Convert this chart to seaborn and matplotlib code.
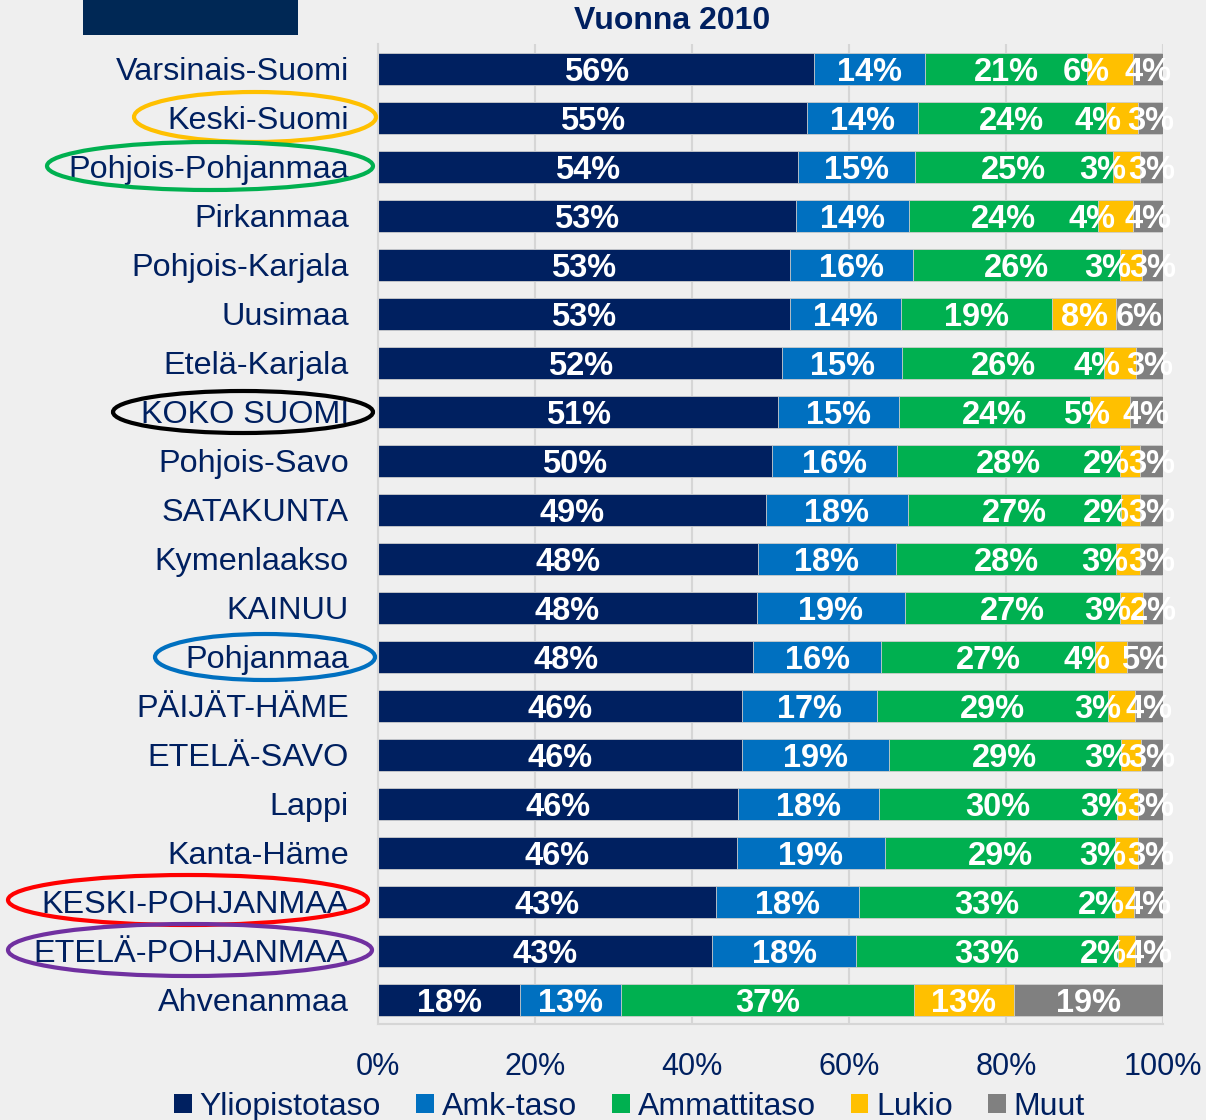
import matplotlib
matplotlib.use('Agg')
import matplotlib.pyplot as plt
import seaborn as sns
import numpy as np
import pandas as pd
from matplotlib.patches import Ellipse, Rectangle, Patch

regions = ['Varsinais-Suomi', 'Keski-Suomi', 'Pohjois-Pohjanmaa', 'Pirkanmaa',
           'Pohjois-Karjala', 'Uusimaa', 'Etelä-Karjala', 'KOKO SUOMI',
           'Pohjois-Savo', 'SATAKUNTA', 'Kymenlaakso', 'KAINUU', 'Pohjanmaa',
           'PÄIJÄT-HÄME', 'ETELÄ-SAVO', 'Lappi', 'Kanta-Häme',
           'KESKI-POHJANMAA', 'ETELÄ-POHJANMAA', 'Ahvenanmaa']

# bar lengths (%)
yliopisto = [55.6, 54.6, 53.5, 53.2, 52.5, 52.5, 51.5, 51.0, 50.2, 49.4,
             48.4, 48.3, 47.8, 46.4, 46.4, 45.9, 45.7, 43.1, 42.6, 18.1]
amk = [14.1, 14.2, 14.9, 14.4, 15.7, 14.1, 15.3, 15.4, 15.9, 18.1,
       17.6, 18.8, 16.3, 17.2, 18.7, 17.9, 18.9, 18.2, 18.3, 12.9]
ammatti = [20.6, 23.9, 25.2, 24.1, 26.3, 19.3, 25.7, 24.3, 28.4, 27.1,
           28.0, 27.4, 27.2, 29.4, 29.5, 30.3, 29.3, 32.6, 33.4, 37.3]
lukio = [5.9, 4.1, 3.5, 4.5, 2.8, 8.1, 4.1, 5.1, 2.6, 2.5,
         3.1, 3.0, 4.1, 3.4, 2.6, 2.7, 2.9, 2.4, 2.1, 12.7]
muut = [3.8, 3.2, 2.9, 3.8, 2.7, 6.0, 3.4, 4.2, 2.9, 2.9,
        2.9, 2.5, 4.6, 3.6, 2.8, 3.2, 3.2, 3.7, 3.6, 19.0]

# printed labels
yliopisto_lbl = [56, 55, 54, 53, 53, 53, 52, 51, 50, 49, 48, 48, 48, 46, 46, 46, 46, 43, 43, 18]
amk_lbl = [14, 14, 15, 14, 16, 14, 15, 15, 16, 18, 18, 19, 16, 17, 19, 18, 19, 18, 18, 13]
ammatti_lbl = [21, 24, 25, 24, 26, 19, 26, 24, 28, 27, 28, 27, 27, 29, 29, 30, 29, 33, 33, 37]
lukio_lbl = [6, 4, 3, 4, 3, 8, 4, 5, 2, 2, 3, 3, 4, 3, 3, 3, 3, 2, 2, 13]
muut_lbl = [4, 3, 3, 4, 3, 6, 3, 4, 3, 3, 3, 2, 5, 4, 3, 3, 3, 4, 4, 19]

series_names = ['Yliopistotaso', 'Amk-taso', 'Ammattitaso', 'Lukio', 'Muut']
colors = ['#002060', '#0070C0', '#00B050', '#FFC000', '#808080']
xticks = [0, 20, 40, 60, 80, 100]
xtick_labels = ['0%', '20%', '40%', '60%', '80%', '100%']

navy = '#002060'
bg = '#EFEFEF'

sns.set_style('white')
plt.rcParams['font.family'] = ['Liberation Sans', 'DejaVu Sans']

fig = plt.figure(figsize=(12.06, 11.2), dpi=100, facecolor=bg)
ax = fig.add_axes([0.3134, 0.0853, 0.6509, 0.875])
ax.set_facecolor(bg)

values = [yliopisto, amk, ammatti, lukio, muut]
labels = [yliopisto_lbl, amk_lbl, ammatti_lbl, lukio_lbl, muut_lbl]
cum = np.cumsum(np.array(values), axis=0)

df = pd.DataFrame({'Alue': regions})
for name, c in zip(series_names, cum):
    df[name] = c

# stacked bars: draw cumulative totals from the outermost inwards
for k in range(len(series_names) - 1, -1, -1):
    sns.barplot(data=df, x=series_names[k], y='Alue', color=colors[k],
                saturation=1, width=0.65, errorbar=None, orient='h',
                edgecolor='#d0d0d0', linewidth=0.6, ax=ax)

lbl_size = 23.5
for k in range(len(series_names)):
    ends = cum[k]
    starts = ends - np.array(values[k])
    for i in range(len(regions)):
        mid = (starts[i] + ends[i]) / 2
        ha = 'center'
        if k == 3 and values[k][i] < 7:
            ha = 'right'
        ax.annotate(f'{labels[k][i]}%', xy=(mid, i),
                    xytext=(0, -0.36 * lbl_size), textcoords='offset points',
                    ha=ha, va='baseline', color='white',
                    fontweight='bold', fontsize=lbl_size)

ax.set_xlim(0, 100)
ax.set_ylim(len(regions) - 0.5, -0.5)
ax.set_xticks(xticks)
ax.set_xticklabels(xtick_labels)
ax.set_xlabel('')
ax.set_ylabel('')
ax.tick_params(axis='x', length=0, pad=20, labelsize=22, labelcolor=navy)
ax.tick_params(axis='y', length=0, pad=21, labelsize=23.3, labelcolor=navy)
ax.grid(axis='x', color='#d6d6d6', lw=1.5)
ax.set_axisbelow(True)
for s in ['top', 'right']:
    ax.spines[s].set_visible(False)
for s in ['left', 'bottom']:
    ax.spines[s].set_color('#d6d6d6')
    ax.spines[s].set_linewidth(1.5)

fig.text(0.557, 0.981, 'Vuonna 2010', ha='center', va='center',
         fontsize=23, fontweight='bold', color=navy)

# dark block at top left
fig.add_artist(Rectangle((83 / 1206, 1 - 35 / 1120), 215 / 1206, 35 / 1120,
                         transform=fig.transFigure, color='#002855', lw=0))

# circled region names
rings = [(255, 117, 242, 50, '#FFC000'),
         (210, 166, 326, 48, '#00B050'),
         (243, 412, 260, 42, '#000000'),
         (265, 657, 220, 46, '#0070C0'),
         (188, 900, 360, 50, '#FF0000'),
         (190, 950, 364, 52, '#7030A0')]
for cx, cy, w, h, c in rings:
    fig.add_artist(Ellipse((cx / 1206, 1 - cy / 1120), w / 1206, h / 1120,
                           transform=fig.transFigure, fill=False,
                           edgecolor=c, lw=3))

handles = [Patch(facecolor=c, edgecolor='none') for c in colors]
fig.legend(handles, series_names, loc='center', bbox_to_anchor=(0.522, 0.012),
           ncol=5, frameon=False, fontsize=23, labelcolor=navy,
           handlelength=0.55, handleheight=0.55, handletextpad=0.25,
           columnspacing=1.1)

fig.savefig('out.png', dpi=100, facecolor=bg)
